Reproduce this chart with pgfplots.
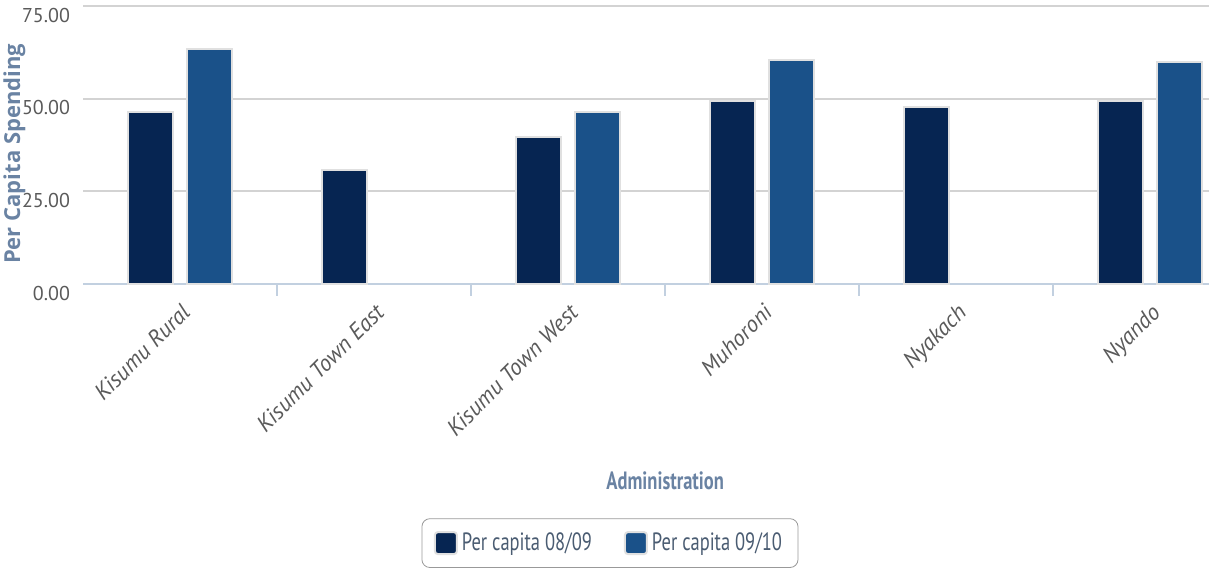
\documentclass[border=0pt]{standalone}
\usepackage{fontspec}
\setmainfont{PT Sans}
\newfontfamily\widefont{Open Sans}
\newfontfamily\condfont[FakeStretch=0.74]{PT Sans}
\usepackage{pgfplots}
\pgfplotsset{compat=1.18}
\definecolor{navy}{HTML}{062552}
\definecolor{midblue}{HTML}{1A5189}
\definecolor{labelc}{HTML}{6A83A3}
\definecolor{tickc}{HTML}{5A5A5A}
\definecolor{gridc}{HTML}{D3D3D3}
\definecolor{axisc}{HTML}{C2D0E0}
\begin{document}
\begin{tikzpicture}[x=1pt,y=1pt]
\useasboundingbox (0,0) rectangle (604.5,285.5);
\begin{axis}[
  at={(41.5pt,143.5pt)}, anchor=south west,
  scale only axis, width=563pt, height=139pt,
  ybar=7pt, bar width=22.5pt,
  xmin=-0.5, xmax=5.304, ymin=0, ymax=75,
  ytick={0,25,50,75},
  ymajorgrids, grid style={gridc, line width=1pt},
  axis x line*=bottom, axis y line*=left,
  y axis line style={draw=none},
  x axis line style={axisc, line width=0.8pt},
  xtick={0,1,2,3,4,5},
  xticklabels={Kisumu Rural,Kisumu Town East,Kisumu Town West,Muhoroni,Nyakach,Nyando},
  major x tick style={draw=none},
  extra x ticks={0.5,1.5,2.5,3.5,4.5},
  extra x tick labels={},
  extra x tick style={grid=none, tick align=outside, major tick length=6pt, major x tick style={draw=axisc, line width=0.6pt}},
  x tick label style={rotate=45, anchor=north east, font=\fontsize{11.5}{13}\selectfont\itshape, text=tickc, yshift=0pt},
  y tick label style={font=\fontsize{10}{12}\selectfont, text=tickc, anchor=north east, xshift=-3pt, yshift=2.5pt},
  major y tick style={draw=none},
  /pgf/number format/assume math mode=true,
  yticklabel={\pgfmathprintnumber[fixed,fixed zerofill,precision=2]{\tick}},
  ylabel={\widefont\bfseries Per Capita Spending},
  ylabel style={at={(axis description cs:-0.061,0.468)}, anchor=center, font=\fontsize{11}{12}\selectfont, text=labelc},
  xlabel={\condfont\bfseries Administration},
  xlabel style={at={(axis description cs:0.517,-0.708)}, anchor=center, font=\fontsize{12.5}{14}\selectfont, text=labelc},
  legend style={at={(axis description cs:0.468,-0.932)}, anchor=center, legend columns=2,
    draw=black!40, rounded corners=4pt, font=\condfont\fontsize{12.5}{14}\selectfont, text=labelc!70!black,
    inner xsep=6pt, inner ysep=5pt, /tikz/every even column/.append style={column sep=14pt}},
  legend image code/.code={\fill[#1, rounded corners=1.5pt] (0pt,-5.5pt) rectangle (11pt,5.5pt);},
  clip=false,
]
\addplot[fill=navy, draw=black!12, line width=1pt] coordinates {(0,46.4) (1,30.8) (2,39.7) (3,49.4) (4,47.7) (5,49.4)};
\addplot[fill=midblue, draw=black!12, line width=1pt] coordinates {(0,63.4) (2,46.4) (3,60.4) (5,59.9)};
\legend{Per capita 08/09, Per capita 09/10}
\end{axis}
\end{tikzpicture}
\end{document}
